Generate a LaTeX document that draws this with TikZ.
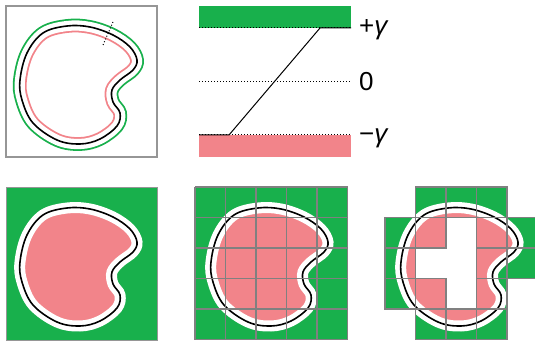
\documentclass[tikz,border=0pt]{standalone}
\usepackage{fontspec}
\setmainfont{Liberation Sans}
\definecolor{lsgreen}{RGB}{24,176,76}
\definecolor{lspink}{RGB}{242,132,138}
\definecolor{gridgray}{RGB}{128,128,128}
\definecolor{boxgray}{RGB}{150,150,150}
\newcommand\blob[1]{\path[#1] plot[smooth cycle, tension=0.6] coordinates {(67,26) (90,27) (113,35) (130,47) (137,60) (133,70) (120,80) (112,90) (113,102) (120,113) (117,126) (100,139) (80,144) (57,140) (33,123) (22,100) (20,80) (27,53) (43,33)};}
\newcommand\blobpanel{%
  \blob{fill=lspink}
  \blob{draw=white, line width=11pt}
  \blob{draw=black, line width=1.6pt}
}
\tikzset{
  lbl/.style={anchor=base west, inner sep=0pt, font=\fontsize{26}{28}\selectfont},
  gridln/.style={draw=gridgray, line width=1.6pt},
  dotln/.style={dotted, line width=1pt},
}
\begin{document}
\begin{tikzpicture}[x=1pt, y=-1pt]
\useasboundingbox[fill=white] (0,0) rectangle (535,344);

% ---------- top-left panel ----------
\blob{draw=lsgreen, line width=13.8pt}
\blob{draw=white, line width=10.2pt}
\blob{fill=white}
\begin{scope}
  \blob{clip}
  \blob{draw=lspink, line width=13.8pt}
  \blob{draw=white, line width=10.2pt}
\end{scope}
\blob{draw=black, line width=1.6pt}
\coordinate (d1) at (113,22);
\coordinate (d2) at (103,45);
\draw[dotln] (d1) -- (d2);
\draw[draw=boxgray, line width=1.5pt] (6,6) rectangle (157,157);

% ---------- top-middle ramp ----------
\fill[lsgreen] (199,6) rectangle (351,28);
\fill[lspink] (199,135) rectangle (351,157);
\coordinate (tl) at (199,28);  \coordinate (tr) at (351,28);
\coordinate (ml) at (199,81.5);\coordinate (mr) at (351,81.5);
\coordinate (bl) at (199,135); \coordinate (br) at (351,135);
\coordinate (k1) at (229,135); \coordinate (k2) at (320,28);
\draw[dotln] (tl) -- (tr);
\draw[dotln] (ml) -- (mr);
\draw[dotln] (bl) -- (br);
\draw[line width=1pt] (bl) -- (k1) -- (k2) -- (tr);
\node[lbl] (lplus) at (359,35) {+\textit{γ}};
\node[lbl] (lzero) at (359,91) {0};
\node[lbl] (lminus) at (359,143) {−\textit{γ}};

% ---------- bottom panel 1 ----------
\fill[lsgreen] (6,188) rectangle (157,340);
\begin{scope}[shift={(0,182)}]
  \blobpanel
\end{scope}
\draw[draw=boxgray, line width=1pt] (6,188) rectangle (157,340);

% ---------- bottom panel 2 ----------
\fill[lsgreen] (195,187) rectangle (347.5,339.5);
\begin{scope}[shift={(191,182)}]
  \blobpanel
\end{scope}
\foreach \i in {0,...,5} {
  \draw[gridln] (195+30.5*\i,187) -- (195+30.5*\i,339.5);
  \draw[gridln] (195,187+30.5*\i) -- (347.5,187+30.5*\i);
}

% ---------- bottom panel 3 ----------
\foreach \c/\r in {1/0,2/0,3/0,0/1,1/1,3/1,4/1,0/2,3/2,4/2,0/3,1/3,3/3,1/4,2/4,3/4} {
  \begin{scope}
    \clip (385+30.5*\c,187+30.5*\r) rectangle ++(30.5,30.5);
    \fill[lsgreen] (380,180) rectangle (540,344);
    \begin{scope}[shift={(381,182)}]
      \blobpanel
    \end{scope}
  \end{scope}
}
\foreach \c/\r in {1/0,2/0,3/0,0/1,1/1,3/1,4/1,0/2,3/2,4/2,0/3,1/3,3/3,1/4,2/4,3/4} {
  \draw[gridln] (385+30.5*\c,187+30.5*\r) rectangle ++(30.5,30.5);
}
\end{tikzpicture}
\end{document}
